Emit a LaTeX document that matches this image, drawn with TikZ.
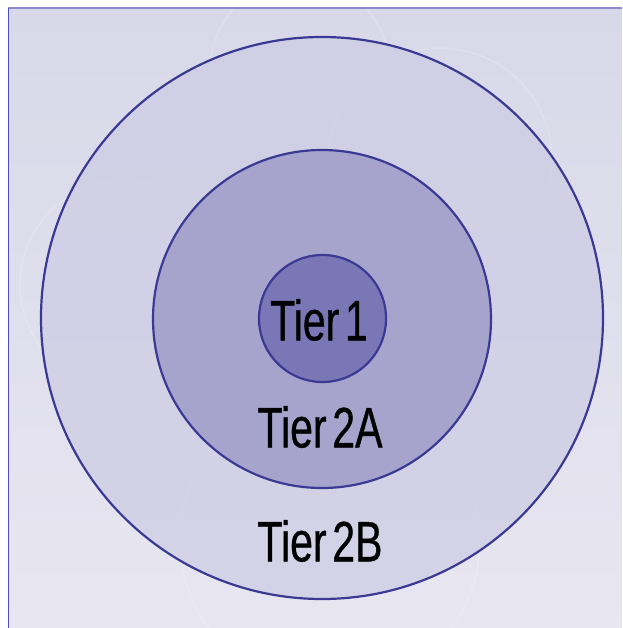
\documentclass[tikz,border=0pt]{standalone}
\usepackage{fontspec}
\setmainfont{Liberation Sans}[FakeStretch=0.72,FakeBold=0.6]
\definecolor{bgtop}{RGB}{216,216,233}
\definecolor{bgbot}{RGB}{232,230,240}
\definecolor{ring}{RGB}{58,58,148}
\definecolor{outerfill}{RGB}{205,204,228}
\definecolor{midfill}{RGB}{166,164,205}
\definecolor{innerfill}{RGB}{122,119,182}
\definecolor{frameleft}{RGB}{78,78,190}
\definecolor{frametop}{RGB}{140,138,202}
\tikzset{
  tier/.style={circle, draw=ring, line width=2.2pt, inner sep=0pt},
  lbl/.style={font=\fontsize{57}{57}\selectfont, text=black, inner sep=0pt},
  dish/.style={draw=white, opacity=0.2, line width=1.2pt}
}
\begin{document}
\begin{tikzpicture}[x=1pt,y=-1pt]
\useasboundingbox (0,0) rectangle (622,628);
\shade[top color=bgtop, bottom color=bgbot] (8,8) rectangle (622,628);
% faint petri dishes in the background
\draw[dish] (440,160) circle[radius=112pt];
\draw[dish] (125,285) circle[radius=105pt];
\draw[dish] (330,540) circle[radius=150pt];
\draw[dish] (300,70) circle[radius=90pt];
% frame
\draw[frametop, line width=2pt] (8,8.5) -- (622,8.5);
\draw[frameleft, line width=1.6pt] (8.5,8) -- (8.5,628);
% tiers
\node[tier, fill=outerfill, fill opacity=0.75, minimum size=562pt] (outer) at (322,318) {};
\node[tier, fill=midfill, minimum size=338pt] (mid) at (322,319) {};
\node[tier, fill=innerfill, minimum size=127pt] (inner) at (322.5,318.5) {};
\node[lbl] (t1) at (319,320) {Tier\hspace{0.1em}1};
\node[lbl] (t2a) at (320,427) {Tier\hspace{0.1em}2A};
\node[lbl] (t2b) at (320,541) {Tier\hspace{0.1em}2B};
\end{tikzpicture}
\end{document}
